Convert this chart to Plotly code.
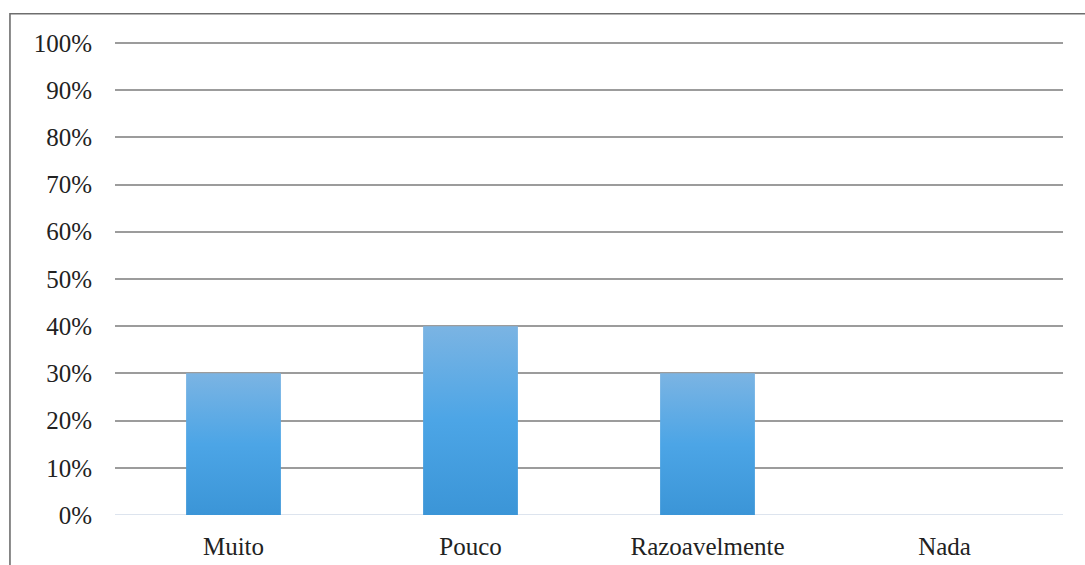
import plotly.graph_objects as go

# Survey answers and their shares
categories = ["Muito", "Pouco", "Razoavelmente", "Nada"]
shares = [0.30, 0.40, 0.30, 0.00]
y_ticks = [0, 0.1, 0.2, 0.3, 0.4, 0.5, 0.6, 0.7, 0.8, 0.9, 1.0]

BAR_HALF = 0.2
FONT = dict(family="Liberation Serif, Times New Roman, serif", size=25, color="#222222")

fig = go.Figure()

# Each bar is a filled rectangle with a vertical gradient (light top, darker base)
for i, (cat, v) in enumerate(zip(categories, shares)):
    if v <= 0:
        continue
    fig.add_trace(go.Scatter(
        x=[i - BAR_HALF, i + BAR_HALF, i + BAR_HALF, i - BAR_HALF, i - BAR_HALF],
        y=[0, 0, v, v, 0],
        mode="lines",
        line=dict(width=0, color="rgba(0,0,0,0)"),
        fill="toself",
        fillgradient=dict(
            type="vertical",
            colorscale=[[0, "#3b95d7"], [0.5, "#4ca5e6"], [1, "#7bb4e3"]],
        ),
        hoverinfo="skip",
        name=cat,
        showlegend=False,
    ))

fig.update_layout(
    width=1085,
    height=565,
    margin=dict(l=115, r=22, t=41, b=50),
    paper_bgcolor="white",
    plot_bgcolor="white",
    font=FONT,
    showlegend=False,
    xaxis=dict(
        range=[-0.5, len(categories) - 0.5],
        tickmode="array",
        tickvals=list(range(len(categories))),
        ticktext=categories,
        showgrid=False,
        zeroline=False,
        showline=False,
        ticks="",
        ticklabelstandoff=14,
        tickfont=FONT,
        automargin=False,
    ),
    yaxis=dict(
        range=[0, 1.004],
        tickmode="array",
        tickvals=y_ticks,
        tickformat=".0%",
        showgrid=True,
        gridcolor="#9c9c9c",
        gridwidth=1.6,
        zeroline=False,
        showline=False,
        ticks="",
        ticklabelstandoff=22,
        tickfont=FONT,
        automargin=False,
    ),
    shapes=[
        # light baseline at 0%
        dict(type="line", xref="paper", yref="y", x0=0, x1=1, y0=0, y1=0,
             line=dict(color="#dde4ee", width=2), layer="below"),
        # outer frame (open to the right and bottom)
        dict(type="rect", xref="paper", yref="paper",
             x0=-0.1108, x1=1.1, y0=-0.3, y1=1.0574,
             line=dict(color="#6e6e6e", width=1.6), fillcolor="rgba(0,0,0,0)"),
    ],
)

fig.write_html("out.html")
